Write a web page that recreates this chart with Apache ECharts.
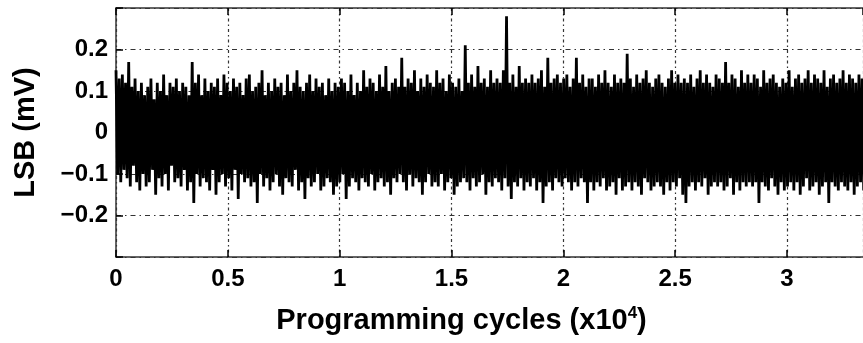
<!DOCTYPE html>
<html>
<head>
<meta charset="utf-8">
<script src="https://cdn.jsdelivr.net/npm/echarts@6/dist/echarts.min.js"></script>
<style>
html,body{margin:0;padding:0;background:#fff;}
#c{width:863px;height:343px;}
</style>
</head>
<body>
<div id="c"></div>
<script>
// Programming cycles (x10^4) spanned by the recorded samples
const cycleStart = 0;
const cycleEnd = 3.40;
const xTicks = [0, 0.5, 1, 1.5, 2, 2.5, 3];
const yTicks = [-0.2, -0.1, 0, 0.1, 0.2];
// LSB (mV), in order along the cycle axis
const lsb = [
0.15,-0.10,0.13,-0.12,0.14,-0.09,0.12,-0.11,0.17,-0.13,0.11,-0.08,0.13,-0.12,0.10,-0.14,0.12,-0.10,0.09,-0.13,
0.11,-0.12,0.13,-0.09,0.08,-0.15,0.12,-0.11,0.10,-0.13,0.14,-0.10,0.09,-0.14,0.12,-0.08,0.11,-0.12,0.13,-0.11,
0.10,-0.13,0.12,-0.09,0.11,-0.14,0.09,-0.12,0.17,-0.17,0.12,-0.10,0.14,-0.13,0.09,-0.11,0.13,-0.12,0.10,-0.14,
0.12,-0.09,0.11,-0.15,0.13,-0.12,0.09,-0.10,0.14,-0.13,0.12,-0.11,0.10,-0.14,0.13,-0.09,0.11,-0.16,0.12,-0.10,
0.09,-0.12,0.13,-0.11,0.14,-0.13,0.10,-0.12,0.11,-0.17,0.12,-0.10,0.15,-0.13,0.09,-0.11,0.12,-0.14,0.10,-0.12,
0.13,-0.10,0.11,-0.13,0.12,-0.15,0.09,-0.11,0.14,-0.12,0.10,-0.13,0.12,-0.09,0.15,-0.14,0.11,-0.12,0.10,-0.16,
0.12,-0.11,0.14,-0.13,0.10,-0.12,0.13,-0.10,0.11,-0.14,0.12,-0.13,0.09,-0.11,0.13,-0.12,0.10,-0.15,0.12,-0.13,
0.11,-0.12,0.13,-0.10,0.12,-0.16,0.10,-0.13,0.14,-0.11,0.09,-0.12,0.12,-0.14,0.10,-0.11,0.15,-0.12,0.11,-0.13,
0.13,-0.10,0.12,-0.14,0.10,-0.12,0.14,-0.11,0.11,-0.13,0.16,-0.12,0.10,-0.15,0.12,-0.11,0.13,-0.12,0.11,-0.10,
0.18,-0.12,0.11,-0.14,0.13,-0.10,0.12,-0.13,0.15,-0.11,0.10,-0.12,0.13,-0.15,0.11,-0.12,0.14,-0.10,0.12,-0.13,
0.11,-0.12,0.15,-0.13,0.12,-0.10,0.13,-0.14,0.10,-0.12,0.14,-0.11,0.12,-0.15,0.11,-0.13,0.13,-0.12,0.10,-0.11,
0.21,-0.12,0.12,-0.14,0.14,-0.11,0.11,-0.13,0.16,-0.12,0.12,-0.10,0.13,-0.15,0.11,-0.12,0.15,-0.13,0.12,-0.11,
0.13,-0.12,0.12,-0.14,0.15,-0.11,0.28,-0.13,0.12,-0.16,0.14,-0.12,0.11,-0.13,0.16,-0.11,0.12,-0.14,0.13,-0.12,
0.12,-0.13,0.14,-0.11,0.12,-0.14,0.13,-0.12,0.15,-0.17,0.11,-0.13,0.18,-0.12,0.12,-0.14,0.13,-0.11,0.14,-0.12,
0.12,-0.13,0.13,-0.11,0.14,-0.12,0.11,-0.14,0.13,-0.12,0.18,-0.13,0.12,-0.11,0.14,-0.12,0.11,-0.17,0.13,-0.12,
0.13,-0.14,0.11,-0.12,0.14,-0.13,0.12,-0.11,0.15,-0.14,0.12,-0.13,0.11,-0.12,0.14,-0.15,0.12,-0.11,0.13,-0.14,
0.12,-0.13,0.19,-0.12,0.13,-0.14,0.11,-0.12,0.14,-0.13,0.12,-0.15,0.13,-0.11,0.15,-0.12,0.12,-0.14,0.11,-0.13,
0.13,-0.12,0.14,-0.13,0.12,-0.15,0.11,-0.12,0.13,-0.14,0.15,-0.12,0.12,-0.13,0.14,-0.11,0.12,-0.15,0.13,-0.17,
0.12,-0.13,0.14,-0.12,0.11,-0.14,0.13,-0.12,0.15,-0.13,0.12,-0.11,0.14,-0.15,0.12,-0.13,0.11,-0.12,0.14,-0.13,
0.13,-0.12,0.12,-0.14,0.17,-0.13,0.12,-0.11,0.14,-0.15,0.13,-0.12,0.11,-0.14,0.15,-0.12,0.12,-0.13,0.14,-0.12,
0.12,-0.13,0.14,-0.12,0.13,-0.17,0.11,-0.12,0.15,-0.13,0.12,-0.14,0.13,-0.11,0.14,-0.13,0.12,-0.15,0.11,-0.12,
0.13,-0.14,0.12,-0.13,0.15,-0.12,0.11,-0.14,0.13,-0.12,0.14,-0.15,0.12,-0.13,0.13,-0.11,0.15,-0.14,0.12,-0.13,
0.14,-0.12,0.13,-0.15,0.12,-0.13,0.15,-0.12,0.11,-0.17,0.13,-0.12,0.14,-0.13,0.12,-0.14,0.13,-0.12,0.15,-0.13,
0.12,-0.14,0.14,-0.12,0.13,-0.15,0.12,-0.13,0.14,-0.12,0.13,-0.14,0.11,-0.13,0.15,-0.12,0.12,-0.14,0.13,-0.12
];

const step = (cycleEnd - cycleStart) / (lsb.length - 1);
const seriesData = lsb.map((v, i) => [cycleStart + i * step, v]);

const FONT = '"Liberation Sans", Arial, sans-serif';
const chart = echarts.init(document.getElementById('c'), null, {renderer: 'canvas'});
const fmtY = v => {
  const r = Math.round(v * 10) / 10;
  if (!yTicks.some(t => Math.abs(t - r) < 1e-9)) return '';
  if (r === 0) return '0';
  return (r < 0 ? '\u2212' : '') + Math.abs(r).toFixed(1);
};
const fmtX = v => {
  const r = Math.round(v * 10) / 10;
  return xTicks.some(t => Math.abs(t - r) < 1e-9) ? String(r) : '';
};

chart.setOption({
  animation: false,
  backgroundColor: '#fff',
  grid: {left: 116, top: 8, right: 0, bottom: 86},
  xAxis: [{
    type: 'value', min: 0, max: 3.34, interval: 0.5,
    position: 'bottom',
    axisLine: {show: true, onZero: false, lineStyle: {color: '#333', width: 1.5}},
    axisTick: {show: true, inside: true, length: 7, lineStyle: {color: '#000', width: 1.5}},
    axisLabel: {formatter: fmtX, color: '#000', fontFamily: FONT, fontWeight: 'bold', fontSize: 24, margin: 10, showMaxLabel: false},
    splitLine: {show: true, lineStyle: {color: '#333', width: 1.2, type: [3, 3, 1.5, 3]}},
    name: 'Programming cycles (x10{sup|4})',
    nameLocation: 'middle', nameGap: 48,
    nameTextStyle: {color: '#000', fontFamily: FONT, fontWeight: 'bold', fontSize: 29, padding: [0, 56, 0, 0],
      rich: {sup: {fontFamily: FONT, fontWeight: 'bold', fontSize: 17, verticalAlign: 'top', padding: [0, 0, 14, 0], color: '#000'}}}
  }, {
    type: 'value', min: 0, max: 3.34, interval: 0.5,
    position: 'top',
    axisLine: {show: true, onZero: false, lineStyle: {color: '#333', width: 1.5}},
    axisTick: {show: true, inside: true, length: 7, lineStyle: {color: '#000', width: 1.5}},
    axisLabel: {show: false},
    splitLine: {show: false}
  }],
  yAxis: {
    type: 'value', min: -0.3, max: 0.3, interval: 0.1,
    axisLine: {show: true, onZero: false, lineStyle: {color: '#333', width: 1.5}},
    axisTick: {show: true, inside: true, length: 7, lineStyle: {color: '#000', width: 1.5}},
    axisLabel: {formatter: fmtY, color: '#000', fontFamily: FONT, fontWeight: 'bold', fontSize: 24, margin: 8},
    splitLine: {show: true, lineStyle: {color: '#333', width: 1.2, type: [5, 4, 1.5, 4]}},
    name: 'LSB (mV)', nameLocation: 'middle', nameGap: 76, nameRotate: 90,
    nameTextStyle: {color: '#000', fontFamily: FONT, fontWeight: 'bold', fontSize: 29}
  },
  series: [{
    type: 'line', xAxisIndex: 0, data: seriesData, showSymbol: false, symbol: 'none',
    sampling: null, lineStyle: {color: '#000', width: 2.8, join: 'bevel'}, z: 3, clip: true
  }]
});
</script>
</body>
</html>
